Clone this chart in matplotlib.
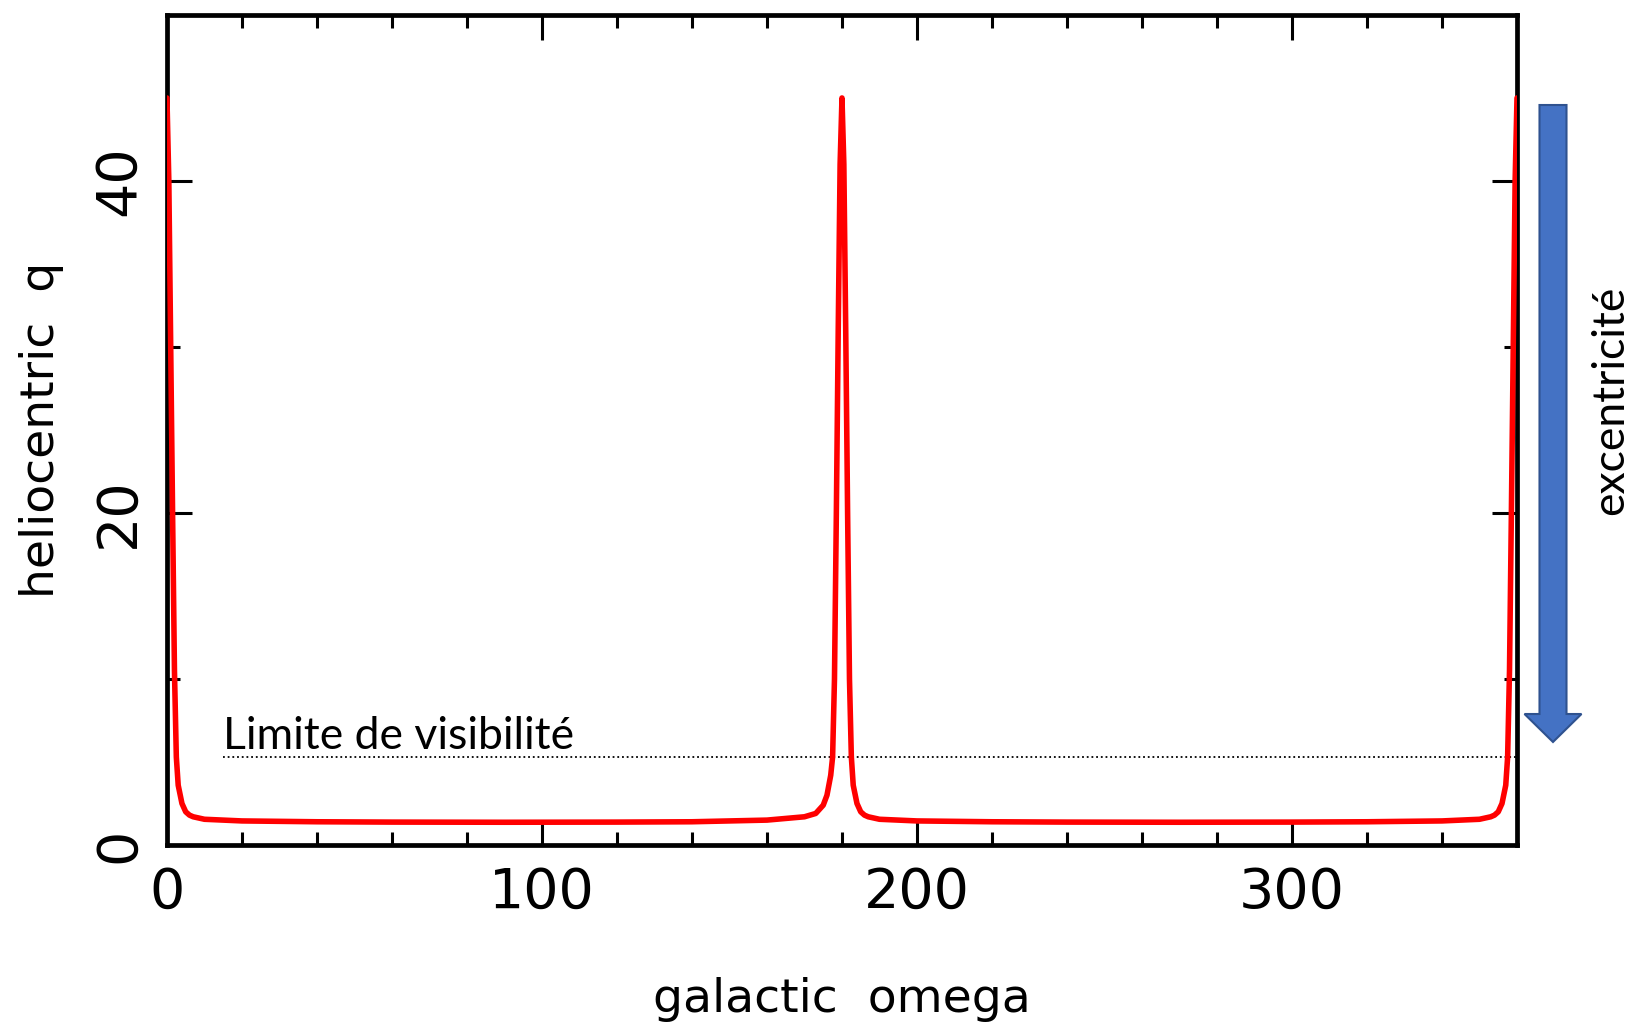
import matplotlib
matplotlib.use('Agg')
import matplotlib.pyplot as plt
from matplotlib.patches import FancyArrow
from matplotlib.ticker import MultipleLocator

# galactic omega (deg) and heliocentric q
omega = [0, 0.5, 1, 1.5, 2, 2.5, 3, 4, 5, 6, 7, 10, 20, 40, 60, 90, 120,
         140, 160, 170, 173, 175, 176, 177, 177.5, 178, 178.5, 179, 179.5,
         180, 180.5, 181, 181.5, 182, 182.5, 183, 184, 185, 186, 187, 190,
         200, 220, 240, 270, 300, 320, 340, 350, 353, 354, 355, 356, 357,
         357.5, 358, 358.5, 359, 359.5, 360]
q = [45, 40, 30, 20, 10.5, 5.3, 3.6, 2.5, 2.0, 1.8, 1.7, 1.55, 1.45, 1.4,
     1.38, 1.37, 1.38, 1.4, 1.5, 1.7, 1.9, 2.4, 3.0, 4.2, 5.3, 10, 20, 31,
     41, 45, 41, 31, 20, 10, 5.3, 3.6, 2.5, 2.0, 1.8, 1.7, 1.55, 1.45, 1.4,
     1.38, 1.37, 1.38, 1.4, 1.45, 1.55, 1.7, 1.8, 2.0, 2.5, 3.6, 5.3, 10.5,
     20, 30, 40, 45]

limit_q = 5.3
limit_start = 15
x_ticks = [0, 100, 200, 300]
y_ticks = [0, 20, 40]

fig = plt.figure(figsize=(16.4, 10.24), dpi=100)
ax = fig.add_axes([0.1018, 0.1748, 0.8232, 0.8106])

ax.plot(omega, q, color='#ff0000', lw=4.0, solid_joinstyle='round',
        solid_capstyle='round', zorder=3)
ax.plot([limit_start, 360], [limit_q, limit_q], color='black',
        ls=(0, (1, 1.6)), lw=1.3)

ax.set_xlim(0, 360)
ax.set_ylim(0, 50)
ax.set_xticks(x_ticks)
ax.set_yticks(y_ticks)
ax.xaxis.set_minor_locator(MultipleLocator(20))
ax.yaxis.set_minor_locator(MultipleLocator(10))

for s in ax.spines.values():
    s.set_linewidth(3.4)

ax.tick_params(which='both', direction='in', top=True, right=True, width=2.2,
               labelsize=40, pad=15)
ax.tick_params(which='major', length=18)
ax.tick_params(which='minor', length=9.5)
ax.tick_params(axis='y', labelrotation=90)
for lab in ax.get_yticklabels():
    lab.set_va('center')

ax.set_xlabel('galactic  omega', fontsize=34, va='baseline')
ax.xaxis.set_label_coords(0.5, -0.201)
ax.set_ylabel('heliocentric  q', fontsize=34, va='center')
ax.yaxis.set_label_coords(-0.0926, 0.5)

ax.text(limit_start, 5.8, 'Limite de visibilité', fontsize=32,
        family='Lato', va='baseline', ha='left')

fig.text(1611 / 1640, 1 - 400 / 1024, 'excentricité', rotation=90,
         fontsize=32, family='Lato', ha='center', va='center')

arrow = FancyArrow(15.53, 9.19, 0, -6.37, width=0.27, head_width=0.57,
                   head_length=0.28, length_includes_head=True,
                   facecolor='#4472c4', edgecolor='#2f528f', lw=1.5,
                   transform=fig.dpi_scale_trans)
fig.patches.append(arrow)

fig.savefig('out.png', dpi=100)
